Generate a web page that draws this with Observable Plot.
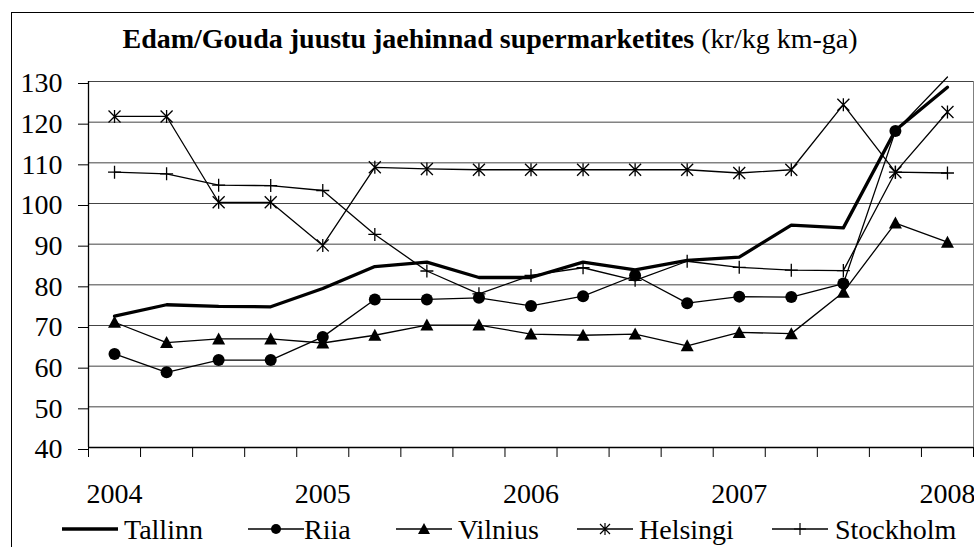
<!DOCTYPE html>
<html>
<head>
<meta charset="utf-8">
<script src="https://cdn.jsdelivr.net/npm/d3@7"></script>
<script src="https://cdn.jsdelivr.net/npm/@observablehq/plot@0.6"></script>
<style>
  html, body { margin: 0; padding: 0; background: #fff; }
  body { width: 974px; height: 547px; overflow: hidden; position: relative;
         font-family: "Liberation Serif", "Times New Roman", serif; color: #000; }
  #frame { position: absolute; left: 11px; top: 12px; width: 1100px; height: 700px;
           border: 1px solid #000; box-sizing: border-box; background: transparent; z-index: 5; pointer-events: none; }
  #title { position: absolute; top: 25px; left: 3px; width: 974px; text-align: center;
           font-size: 28px; line-height: 28px; white-space: nowrap; }
  #title b { font-weight: bold; }
  #chart { position: absolute; left: 0; top: 60px; }
  .leg { position: absolute; top: 516px; height: 28px; font-size: 28px; line-height: 28px; white-space: nowrap; }
  .sw { position: absolute; top: 0; }
</style>
</head>
<body>
<div id="title"><b>Edam/Gouda juustu jaehinnad supermarketites</b> (kr/kg km-ga)</div>
<div id="chart"></div>
<div id="legend"></div>
<div id="frame"></div>
<script>
// ---- data ----
const quarters = ["2004 I","2004 II","2004 III","2004 IV","2005 I","2005 II","2005 III","2005 IV",
                  "2006 I","2006 II","2006 III","2006 IV","2007 I","2007 II","2007 III","2007 IV","2008 I"];
const yearLabels = ["2004", "2005", "2006", "2007", "2008"];
const yTicks = [40, 50, 60, 70, 80, 90, 100, 110, 120, 130];
const cities = ["Tallinn", "Riia", "Vilnius", "Helsingi", "Stockholm"];

const tallinn   = [72.3, 75.1, 74.7, 74.6, 79.1, 84.5, 85.6, 81.8, 81.8, 85.6, 83.7, 86.0, 86.8, 94.7, 94.0, 118.0, 128.6];
const riia      = [63.0, 58.5, 61.5, 61.5, 67.2, 76.4, 76.4, 76.8, 74.8, 77.2, 82.3, 75.5, 77.1, 77.0, 80.3, 117.8, 131.1];
const vilnius   = [70.8, 65.8, 66.7, 66.7, 65.7, 67.6, 70.1, 70.1, 67.9, 67.6, 67.9, 65.0, 68.3, 68.0, 78.2, 95.2, 90.5];
const helsingi  = [121.4, 121.4, 100.3, 100.3, 89.7, 108.9, 108.5, 108.3, 108.3, 108.3, 108.3, 108.3, 107.5, 108.3, 124.3, 107.7, 122.5];
const stockholm = [107.7, 107.3, 104.5, 104.4, 103.2, 92.4, 83.4, 77.8, 82.3, 84.2, 81.1, 85.8, 84.3, 83.6, 83.5, 107.7, 107.5];

const seriesValues = [tallinn, riia, vilnius, helsingi, stockholm];
const rows = cities.map((c, k) => seriesValues[k].map((v, i) => ({city: c, i, q: quarters[i], value: v})));
const [T, R, V, H, S] = rows;

// ---- custom Excel-like marker symbols ----
const symX = {draw(ctx) { // star: X plus vertical bar
  ctx.moveTo(-6, -6); ctx.lineTo(6, 6);
  ctx.moveTo(-6, 6); ctx.lineTo(6, -6);
  ctx.moveTo(0, -6.5); ctx.lineTo(0, 6.5);
}};
const symPlus = {draw(ctx) {
  ctx.moveTo(-6.5, 0); ctx.lineTo(6.5, 0);
  ctx.moveTo(0, -6.5); ctx.lineTo(0, 6.5);
}};
const symTri = {draw(ctx) {
  ctx.moveTo(0, -6.5); ctx.lineTo(6.5, 5.5); ctx.lineTo(-6.5, 5.5); ctx.closePath();
}};

const n = quarters.length;
const boundaries = d3.range(n + 1).map(k => k - 0.5);
const yearPos = yearLabels.map((y, k) => k * 4);
const inPlot = d => d.value <= 130;

const chart = Plot.plot({
  width: 974, height: 455,
  marginLeft: 88, marginRight: 1, marginTop: 21, marginBottom: 68,
  x: {domain: [-0.5, n - 0.5], axis: null, label: null},
  y: {domain: [40, 130], axis: null, label: null},
  style: {fontFamily: "Liberation Serif, Times New Roman, serif", fontSize: "28px", color: "#000", background: "#fff", overflow: "visible"},
  marks: [
    Plot.gridY(yTicks.slice(1), {stroke: "#444", strokeOpacity: 1, strokeWidth: 1}),
    Plot.ruleX([n - 0.5], {stroke: "#808080", strokeWidth: 1}),
    Plot.axisY(yTicks, {anchor: "left", tickSize: 10, tickPadding: 16, dy: 2, fontSize: 28, stroke: "#000", label: null}),
    Plot.axisX(boundaries, {anchor: "bottom", tickSize: 10, tickFormat: () => "", stroke: "#000", label: null}),
    Plot.axisX(yearPos, {anchor: "bottom", tickSize: 0, tickPadding: 36, fontSize: 28, tickFormat: d => yearLabels[d / 4], label: null}),
    Plot.ruleX([-0.5], {stroke: "#000", strokeWidth: 1.3}),
    Plot.ruleY([40], {stroke: "#000", strokeWidth: 1.3}),
    // Tallinn (thick line, no markers)
    Plot.line(T, {x: "i", y: "value", stroke: "#000", strokeWidth: 3.3}),
    // Riia
    Plot.line(R, {x: "i", y: "value", stroke: "#000", strokeWidth: 1.3}),
    Plot.dot(R.filter(inPlot), {x: "i", y: "value", r: 6, fill: "#000", stroke: "none"}),
    // Vilnius
    Plot.line(V, {x: "i", y: "value", stroke: "#000", strokeWidth: 1.3}),
    Plot.dot(V.filter(inPlot), {x: "i", y: "value", symbol: symTri, fill: "#000", stroke: "none"}),
    // Helsingi
    Plot.line(H, {x: "i", y: "value", stroke: "#000", strokeWidth: 1.3}),
    Plot.dot(H.filter(inPlot), {x: "i", y: "value", symbol: symX, fill: "none", stroke: "#000", strokeWidth: 1.3}),
    // Stockholm
    Plot.line(S, {x: "i", y: "value", stroke: "#000", strokeWidth: 1.3}),
    Plot.dot(S.filter(inPlot), {x: "i", y: "value", symbol: symPlus, fill: "none", stroke: "#000", strokeWidth: 1.3})
  ]
});
document.getElementById("chart").appendChild(chart);

// ---- legend ----
const legSwatchLeft = [62, 248, 396, 577, 772];
const legTextLeft = [124, 304, 458, 639, 835];
const legMarkers = [null, "circle", "tri", "star", "plus"];
function markerSVG(kind) {
  const cx = 28, cy = 13;
  if (kind === "circle") return `<circle cx="${cx}" cy="${cy}" r="5" fill="#000"/>`;
  if (kind === "tri") return `<path d="M${cx},${cy-6}L${cx+6},${cy+5}L${cx-6},${cy+5}Z" fill="#000"/>`;
  if (kind === "star") return `<path d="M${cx-5},${cy-5}L${cx+5},${cy+5}M${cx-5},${cy+5}L${cx+5},${cy-5}M${cx},${cy-6}L${cx},${cy+6}" stroke="#000" stroke-width="1.2" fill="none"/>`;
  if (kind === "plus") return `<path d="M${cx-6},${cy}L${cx+6},${cy}M${cx},${cy-6}L${cx},${cy+6}" stroke="#000" stroke-width="1.2" fill="none"/>`;
  return "";
}
const legend = document.getElementById("legend");
cities.forEach((c, k) => {
  const sw = document.createElement("div");
  sw.className = "leg";
  sw.style.left = legSwatchLeft[k] + "px";
  sw.innerHTML = `<svg class="sw" width="56" height="26"><line x1="0" x2="56" y1="13" y2="13" stroke="#000" stroke-width="${k === 0 ? 3.3 : 1.3}"/>${markerSVG(legMarkers[k])}</svg>`;
  legend.appendChild(sw);
  const tx = document.createElement("div");
  tx.className = "leg";
  tx.style.left = legTextLeft[k] + "px";
  tx.textContent = c;
  legend.appendChild(tx);
});
</script>
</body>
</html>
